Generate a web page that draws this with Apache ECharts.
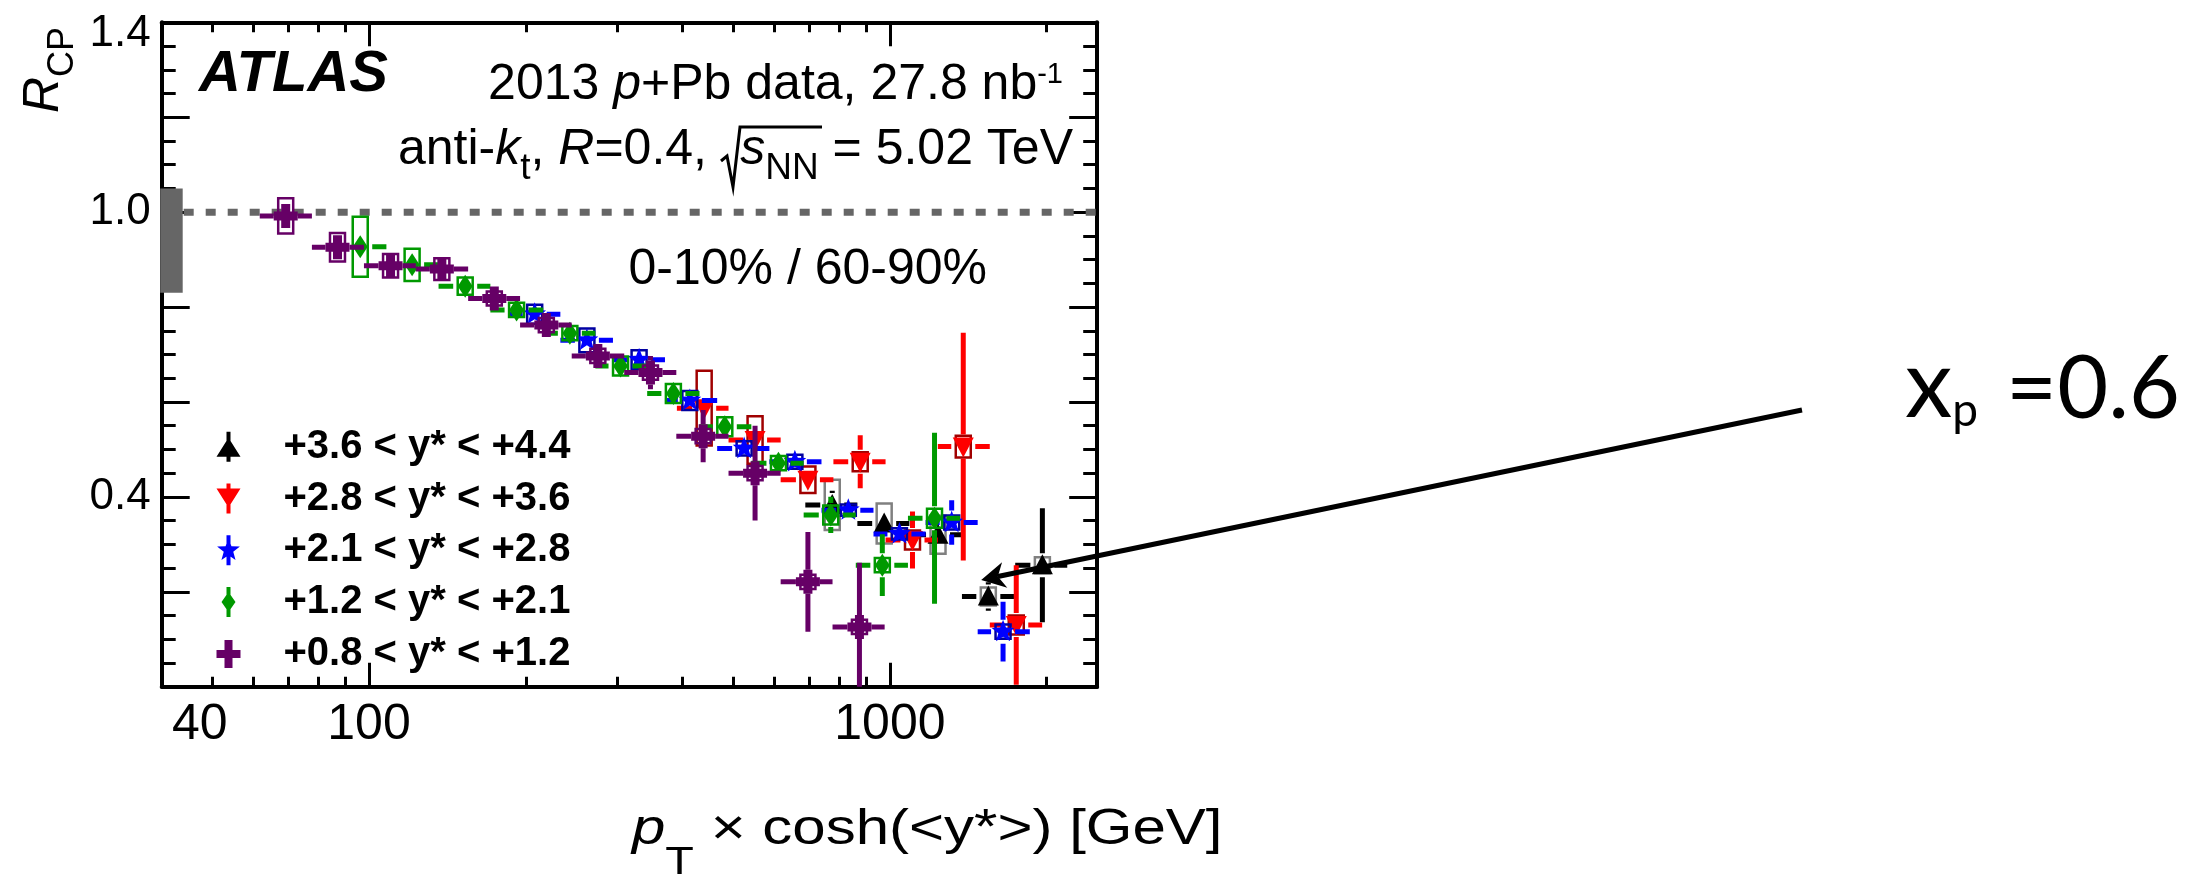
<!DOCTYPE html>
<html>
<head>
<meta charset="utf-8">
<script src="https://cdn.jsdelivr.net/npm/echarts@6.0.0/dist/echarts.min.js"></script>
<style>
html,body{margin:0;padding:0;background:#ffffff;}
#chart{width:2192px;height:882px;}
</style>
</head>
<body>
<div id="chart"></div>
<script>
// ---------------- data ----------------
const xTickLabels = [40, 100, 1000];
const xMajorTicks = [100, 1000];
const xMinorTicks = [50, 60, 70, 80, 90, 200, 300, 400, 500, 600, 700, 800, 900, 2000];
const yTickLabels = [0.4, 1.0, 1.4];

const seriesNames = ['+3.6 < y* < +4.4', '+2.8 < y* < +3.6', '+2.1 < y* < +2.8', '+1.2 < y* < +2.1', '+0.8 < y* < +1.2'];

// +3.6 < y* < +4.4 (black triangles)
const blackX     = [775, 975, 1237, 1545, 1962];
const blackY     = [0.383, 0.344, 0.320, 0.190, 0.256];
const blackStat  = [0.030, 0.015, 0.015, 0.030, 0.120];
const blackSyst  = [0.053, 0.042, 0.040, 0.019, 0.017];
const blackEdges = [688, 866, 1090, 1375, 1740, 2190];

// +2.8 < y* < +3.6 (red inverted triangles)
const redX     = [440, 551, 696, 877, 1105, 1383, 1748];
const redY     = [0.587, 0.520, 0.436, 0.474, 0.309, 0.506, 0.130];
const redStat  = [0.020, 0.020, 0.020, 0.056, 0.060, 0.240, 0.126];
const redSyst  = [0.079, 0.050, 0.028, 0.020, 0.020, 0.023, 0.020];
const redEdges = [390, 490, 617, 779, 981, 1236, 1555, 1960];

// +2.1 < y* < +2.8 (blue stars)
const blueX     = [208, 262, 330, 413, 525, 657, 832, 1043, 1314, 1649];
const blueY     = [0.785, 0.730, 0.689, 0.603, 0.502, 0.474, 0.372, 0.322, 0.346, 0.116];
const blueStat  = [0.010, 0.010, 0.010, 0.012, 0.015, 0.020, 0.020, 0.025, 0.047, 0.063];
const blueSyst  = [0.020, 0.025, 0.020, 0.020, 0.015, 0.015, 0.012, 0.012, 0.015, 0.015];
const blueEdges = [185, 233, 294, 370, 466, 587, 739, 930, 1171, 1474, 1856];

// +1.2 < y* < +2.1 (green diamonds)
const greenX     = [96.2, 121, 153, 192, 243, 304, 384, 482, 611, 770, 967, 1218];
const greenY     = [0.927, 0.889, 0.844, 0.794, 0.745, 0.676, 0.618, 0.548, 0.471, 0.362, 0.256, 0.355];
const greenStat  = [0.010, 0.010, 0.010, 0.010, 0.010, 0.010, 0.012, 0.015, 0.020, 0.038, 0.065, 0.180];
const greenSyst  = [0.063, 0.034, 0.018, 0.015, 0.015, 0.020, 0.020, 0.020, 0.015, 0.020, 0.015, 0.020];
const greenEdges = [85.8, 108, 136, 171, 216, 272, 342, 431, 542, 683, 860, 1083, 1363];

// +0.8 < y* < +1.2 (purple crosses)
const purpleX     = [69.2, 87, 110, 138, 174, 219, 275, 347, 438, 551, 696, 874];
const purpleY     = [0.992, 0.926, 0.887, 0.880, 0.818, 0.762, 0.697, 0.662, 0.528, 0.450, 0.221, 0.126];
const purpleStat  = [0.012, 0.012, 0.012, 0.012, 0.012, 0.012, 0.015, 0.035, 0.055, 0.100, 0.105, 0.135];
const purpleSyst  = [0.037, 0.030, 0.025, 0.023, 0.015, 0.015, 0.015, 0.015, 0.015, 0.015, 0.015, 0.015];
const purpleEdges = [61.7, 77.7, 97.8, 123, 155, 195, 245, 309, 389, 490, 617, 776, 977];

// normalisation uncertainty band at R_CP = 1
const unityLine = [[40, 1], [2500, 1]];
const normUnc = [[40, 1, 0.05, 0.17]];

// annotation arrow tip (data coordinates)
const arrowTip = [[1497, 0.225]];

// ---------------- drawing ----------------
const FONT = 'Liberation Sans';
const BOX_W = 15, GAP = 12, BAR_W = 5, BOX_LW = 2.5;
const ARROW_TAIL = [1802, 410];

function T(size, extra) {
  return Object.assign({fontSize: size, fontFamily: FONT, fontWeight: 'normal', fontStyle: 'normal', fill: '#000', color: '#000'}, extra || {});
}

function markerShape(kind, cx, cy, color) {
  let pts;
  if (kind === 'triUp') pts = [[cx, cy - 11], [cx + 10.5, cy + 9], [cx - 10.5, cy + 9]];
  else if (kind === 'triDown') pts = [[cx - 10.5, cy - 9], [cx + 10.5, cy - 9], [cx, cy + 11]];
  else if (kind === 'diamond') pts = [[cx, cy - 11.5], [cx + 7.5, cy], [cx, cy + 11.5], [cx - 7.5, cy]];
  else if (kind === 'star') {
    pts = [];
    for (let k = 0; k < 10; k++) {
      const a = -Math.PI / 2 + k * Math.PI / 5, r = k % 2 ? 5 : 12;
      pts.push([cx + r * Math.cos(a), cy + r * Math.sin(a)]);
    }
  } else {
    const a = 12, t = 4.5;
    pts = [[cx - t, cy - a], [cx + t, cy - a], [cx + t, cy - t], [cx + a, cy - t], [cx + a, cy + t], [cx + t, cy + t],
           [cx + t, cy + a], [cx - t, cy + a], [cx - t, cy + t], [cx - a, cy + t], [cx - a, cy - t], [cx - t, cy - t]];
  }
  return {type: 'polygon', shape: {points: pts}, style: {fill: color}};
}

function pointSeries(name, xs, ys, stat, syst, edges, color, boxColor, kind, z) {
  return {
    name: name, type: 'custom', coordinateSystem: 'cartesian2d', xAxisIndex: 0, yAxisIndex: 0,
    clip: true, z: z, silent: true, itemStyle: {color: color},
    encode: {x: 0, y: 1},
    data: xs.map((x, i) => [x, ys[i], stat[i], syst[i], edges[i], edges[i + 1]]),
    renderItem: function (params, api) {
      const x = api.value(0), y = api.value(1), st = api.value(2), sy = api.value(3);
      const lo = api.value(4), hi = api.value(5);
      const c = api.coord([x, y]);
      const l = api.coord([lo, y])[0], h = api.coord([hi, y])[0];
      const yt = api.coord([x, y + st])[1], yb = api.coord([x, y - st])[1];
      const sTop = api.coord([x, y + sy])[1], sBot = api.coord([x, y - sy])[1];
      const ls = {stroke: color, lineWidth: BAR_W};
      const ch = [{type: 'rect', shape: {x: c[0] - BOX_W / 2, y: sTop, width: BOX_W, height: sBot - sTop},
                   style: {fill: 'none', stroke: boxColor, lineWidth: BOX_LW}}];
      if (c[0] - GAP > l) ch.push({type: 'line', shape: {x1: l, y1: c[1], x2: c[0] - GAP, y2: c[1]}, style: ls});
      if (h > c[0] + GAP) ch.push({type: 'line', shape: {x1: c[0] + GAP, y1: c[1], x2: h, y2: c[1]}, style: ls});
      if (c[1] - GAP > yt) ch.push({type: 'line', shape: {x1: c[0], y1: yt, x2: c[0], y2: c[1] - GAP}, style: ls});
      if (yb > c[1] + GAP) ch.push({type: 'line', shape: {x1: c[0], y1: c[1] + GAP, x2: c[0], y2: yb}, style: ls});
      ch.push(markerShape(kind, c[0], c[1], color));
      return {type: 'group', children: ch};
    }
  };
}

function starPath(cx, cy, R, r) {
  let s = '';
  for (let k = 0; k < 10; k++) {
    const a = -Math.PI / 2 + k * Math.PI / 5, rr = k % 2 ? r : R;
    s += (k ? 'L' : 'M') + (cx + rr * Math.cos(a)).toFixed(2) + ' ' + (cy + rr * Math.sin(a)).toFixed(2) + ' ';
  }
  return s + 'Z';
}
const BAR_PATH = 'M0 0M24 30M10 0H14V30H10Z';
const legendIcons = [
  'path://' + BAR_PATH + 'M12 6L24 25L0 25Z',
  'path://' + BAR_PATH + 'M0 5L24 5L12 24Z',
  'path://' + BAR_PATH + starPath(12, 15, 12, 5),
  'path://' + BAR_PATH + 'M12 5L19 15L12 25L5 15Z',
  'path://M0 0M24 30M8 1L16 1L16 11L24 11L24 19L16 19L16 29L8 29L8 19L0 19L0 11L8 11Z'
];
const colors = ['#000000', '#ff0000', '#0000ff', '#009900', '#660066'];

function xAxisDef(pos, ticks, len, showLine, showLabel) {
  return {
    type: 'log', logBase: 10, min: 40, max: 2500, position: pos,
    axisLine: {show: showLine, onZero: false, lineStyle: {color: '#000', width: 4}},
    axisTick: {show: true, inside: true, length: len, customValues: ticks, lineStyle: {color: '#000', width: 3}},
    minorTick: {show: false}, splitLine: {show: false},
    axisLabel: showLabel ? {
      show: true, customValues: xTickLabels, margin: 14, fontSize: 50, fontFamily: FONT, color: '#000',
      formatter: v => Math.round(v) === 40 ? '{s|40}' : String(Math.round(v)),
      rich: {s: {padding: [0, 0, 0, 76], fontSize: 50, fontFamily: FONT, color: '#000'}}
    } : {show: false}
  };
}
function yAxisDef(pos, showLabel) {
  return {
    type: 'value', min: 0, max: 1.4, interval: 0.2, position: pos,
    axisLine: {show: true, onZero: false, lineStyle: {color: '#000', width: 4}},
    axisTick: {show: true, inside: true, length: 28, lineStyle: {color: '#000', width: 3}},
    minorTick: {show: true, splitNumber: 4, length: 14, lineStyle: {color: '#000', width: 3}},
    splitLine: {show: false},
    axisLabel: showLabel ? {
      show: true, customValues: yTickLabels, margin: 11, fontSize: 44, fontFamily: FONT, color: '#000',
      formatter: v => Math.abs(v - 1.4) < 1e-6 ? '{d|1.4}' : v.toFixed(1),
      rich: {d: {padding: [24, 0, 0, 0], fontSize: 44, fontFamily: FONT, color: '#000'}}
    } : {show: false}
  };
}

const chart = echarts.init(document.getElementById('chart'), null, {renderer: 'canvas', width: 2192, height: 882});

const option = {
  animation: false,
  backgroundColor: '#ffffff',
  grid: {left: 161.7, right: 1094.8, top: 22.3, bottom: 195.3, containLabel: false, outerBoundsMode: 'none'},
  xAxis: [
    xAxisDef('bottom', xMinorTicks, 10, true, true),
    xAxisDef('bottom', xMajorTicks, 24, false, false),
    xAxisDef('top', xMinorTicks, 10, true, false),
    xAxisDef('top', xMajorTicks, 24, false, false)
  ],
  yAxis: [yAxisDef('left', true), yAxisDef('right', false)],
  legend: {
    orient: 'vertical', left: 216.5, top: 426.7, padding: 0, itemGap: 11.8,
    itemWidth: 24, itemHeight: 30, selectedMode: false,
    textStyle: {fontFamily: FONT, fontWeight: 'bold', fontSize: 40, color: '#000', lineHeight: 40, padding: [0, 0, 0, 38]},
    data: seriesNames.map((n, i) => ({name: n, icon: legendIcons[i], itemStyle: {color: colors[i]}}))
  },
  series: [
    {
      name: 'unity', type: 'line', xAxisIndex: 0, yAxisIndex: 0, data: unityLine, showSymbol: false, symbol: 'none',
      silent: true, z: 1, lineStyle: {color: '#666666', width: 7, type: [10, 12], cap: 'butt'}
    },
    {
      name: 'norm', type: 'custom', xAxisIndex: 0, yAxisIndex: 0, data: normUnc, clip: false, z: 5, silent: true,
      encode: {x: 0, y: 1},
      renderItem: function (params, api) {
        const x0 = api.coord([api.value(0), api.value(1)])[0];
        const top = api.coord([api.value(0), api.value(1) + api.value(2)])[1];
        const bot = api.coord([api.value(0), api.value(1) - api.value(3)])[1];
        return {type: 'rect', shape: {x: x0 - 1.5, y: top, width: 22.5, height: bot - top}, style: {fill: '#666666'}};
      }
    },
    pointSeries(seriesNames[0], blackX, blackY, blackStat, blackSyst, blackEdges, colors[0], '#808080', 'triUp', 3),
    pointSeries(seriesNames[1], redX, redY, redStat, redSyst, redEdges, colors[1], '#a00000', 'triDown', 3),
    pointSeries(seriesNames[2], blueX, blueY, blueStat, blueSyst, blueEdges, colors[2], '#0000a0', 'star', 3),
    pointSeries(seriesNames[3], greenX, greenY, greenStat, greenSyst, greenEdges, colors[3], '#009900', 'diamond', 3),
    pointSeries(seriesNames[4], purpleX, purpleY, purpleStat, purpleSyst, purpleEdges, colors[4], '#660066', 'cross', 3),
    {
      name: 'annotation', type: 'custom', xAxisIndex: 0, yAxisIndex: 0, data: arrowTip, clip: false, z: 10, silent: true,
      encode: {x: 0, y: 1},
      renderItem: function (params, api) {
        const t = api.coord([api.value(0), api.value(1)]);
        const dx = ARROW_TAIL[0] - t[0], dy = ARROW_TAIL[1] - t[1], L = Math.hypot(dx, dy);
        const ux = dx / L, uy = dy / L, nx = -uy, ny = ux;
        const HL = 24, HW = 13, NOTCH = 17;
        const b = [t[0] + ux * HL, t[1] + uy * HL];
        const head = [[t[0], t[1]], [b[0] + nx * HW, b[1] + ny * HW], [t[0] + ux * NOTCH, t[1] + uy * NOTCH], [b[0] - nx * HW, b[1] - ny * HW]];
        return {type: 'group', children: [
          {type: 'line', shape: {x1: t[0] + ux * NOTCH, y1: t[1] + uy * NOTCH, x2: ARROW_TAIL[0], y2: ARROW_TAIL[1]}, style: {stroke: '#000', lineWidth: 5}},
          {type: 'polygon', shape: {points: head}, style: {fill: '#000'}}
        ]};
      }
    }
  ],
  graphic: [
    {type: 'text', x: 199, y: 75, z: 20,
     style: Object.assign(T(58, {fontWeight: 'bold', fontStyle: 'italic'}), {text: 'ATLAS', align: 'left', verticalAlign: 'middle', textAlign: 'left', textVerticalAlign: 'middle'})},
    {type: 'text', x: 1063, y: 85, z: 20,
     style: Object.assign(T(50, {lineHeight: 50}), {
       text: '2013 {i|p}+Pb data, 27.8 nb{sup|-1}', align: 'right', verticalAlign: 'middle', textAlign: 'right', textVerticalAlign: 'middle',
       rich: {i: T(50, {fontStyle: 'italic', lineHeight: 50}), sup: T(29, {lineHeight: 29, verticalAlign: 'top'})}
     })},
    {type: 'text', x: 707, y: 150, z: 20,
     style: Object.assign(T(50, {lineHeight: 74}), {
       text: 'anti-{i|k}{sub|t}, {i|R}=0.4,', align: 'right', verticalAlign: 'middle', textAlign: 'right', textVerticalAlign: 'middle',
       rich: {i: T(50, {fontStyle: 'italic', lineHeight: 74}), sub: T(37, {lineHeight: 37, verticalAlign: 'bottom'})}
     })},
    {type: 'polyline', z: 20, shape: {points: [[721, 161], [727, 156], [733, 187], [740, 127], [822, 127]]},
     style: {stroke: '#000', lineWidth: 3, fill: 'none'}},
    {type: 'text', x: 1073, y: 150, z: 20,
     style: Object.assign(T(50, {lineHeight: 74}), {
       text: '{i|s}{sub|NN} = 5.02 TeV', align: 'right', verticalAlign: 'middle', textAlign: 'right', textVerticalAlign: 'middle',
       rich: {i: T(50, {fontStyle: 'italic', lineHeight: 74}), sub: T(37, {lineHeight: 37, verticalAlign: 'bottom'})}
     })},
    {type: 'text', x: 628.5, y: 270, z: 20,
     style: Object.assign(T(50), {text: '0-10% / 60-90%', align: 'left', verticalAlign: 'middle', textAlign: 'left', textVerticalAlign: 'middle'})},
    {type: 'text', x: 44, y: 27, rotation: Math.PI / 2, z: 20,
     style: Object.assign(T(50, {lineHeight: 75}), {
       text: '{r|R}{s|CP}', align: 'right', verticalAlign: 'middle', textAlign: 'right', textVerticalAlign: 'middle',
       rich: {r: T(50, {fontStyle: 'italic', lineHeight: 75}), s: T(36, {lineHeight: 36, verticalAlign: 'bottom'})}
     })},
    {type: 'text', x: 632, y: 830, scaleX: 1.2, z: 20,
     style: Object.assign(T(50, {lineHeight: 106}), {
       text: '{i|p}{sub|T} × cosh(<y*>) [GeV]', align: 'left', verticalAlign: 'middle', textAlign: 'left', textVerticalAlign: 'middle',
       rich: {i: T(50, {fontStyle: 'italic', lineHeight: 106}), sub: T(39, {lineHeight: 39, verticalAlign: 'bottom'})}
     })},
    {type: 'text', x: 1905, y: 386.5, z: 20,
     style: {
       text: '{a|x}{b|p}{c|=0.6}', fontSize: 95, fontFamily: 'Lato', fill: '#000', lineHeight: 95,
       align: 'left', verticalAlign: 'middle', textAlign: 'left', textVerticalAlign: 'middle',
       rich: {a: {fontSize: 95, fontFamily: 'Lato', fontWeight: 'normal', fill: '#000', color: '#000', lineHeight: 95, verticalAlign: 'bottom'},
              b: {fontSize: 46, fontFamily: 'Lato', fontWeight: 'normal', fill: '#000', color: '#000', lineHeight: 86, verticalAlign: 'bottom'},
              c: {fontSize: 88, fontFamily: 'Lato', fontWeight: 'normal', fill: '#000', color: '#000', lineHeight: 90, verticalAlign: 'bottom', padding: [0, 0, 0, 28]}}
     }}
  ]
};
chart.setOption(option);
</script>
</body>
</html>
